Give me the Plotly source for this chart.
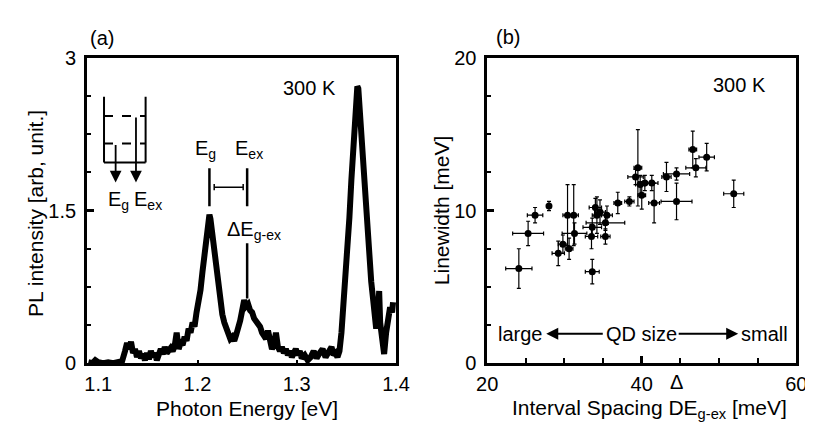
import plotly.graph_objects as go

# ---------------- Panel (a): PL spectrum at 300 K ----------------
energy_ev = [
    1.090, 1.094, 1.097, 1.100, 1.105, 1.110, 1.115, 1.120, 1.124, 1.127,
    1.129, 1.131, 1.133, 1.135, 1.137, 1.139, 1.141, 1.143, 1.145, 1.147,
    1.149, 1.151, 1.153, 1.155, 1.157, 1.159, 1.161, 1.163, 1.165, 1.167,
    1.169, 1.171, 1.173, 1.175, 1.177, 1.179, 1.181, 1.183, 1.185, 1.187,
    1.189, 1.191, 1.193, 1.195, 1.197, 1.199, 1.201, 1.203, 1.205, 1.207,
    1.209, 1.211, 1.212, 1.213, 1.215, 1.217, 1.219, 1.221, 1.223, 1.225,
    1.227, 1.229, 1.231, 1.233, 1.235, 1.237, 1.239, 1.241, 1.243, 1.245,
    1.247, 1.249, 1.251, 1.253, 1.255, 1.257, 1.259, 1.261, 1.263, 1.265,
    1.267, 1.269, 1.271, 1.273, 1.275, 1.277, 1.279, 1.281, 1.283, 1.285,
    1.287, 1.289, 1.291, 1.293, 1.295, 1.297, 1.299, 1.301, 1.303, 1.305,
    1.308, 1.311, 1.314, 1.317, 1.320, 1.323, 1.326, 1.329, 1.332, 1.335,
    1.337, 1.339, 1.341, 1.343, 1.345, 1.347, 1.349, 1.351, 1.353, 1.355,
    1.357, 1.359, 1.361, 1.362, 1.363, 1.365, 1.367, 1.369, 1.371, 1.373,
    1.375, 1.377, 1.379, 1.380, 1.382, 1.383, 1.384, 1.386, 1.388, 1.390,
    1.392, 1.394, 1.396, 1.397,
]
pl_intensity = [
    0.01, 0.00, 0.03, 0.01, 0.00, 0.01, 0.00, 0.01, 0.02, 0.12,
    0.20, 0.14, 0.21, 0.10, 0.14, 0.06, 0.12, 0.05, 0.09, 0.03,
    0.10, 0.04, 0.12, 0.06, 0.10, 0.03, 0.08, 0.14, 0.09, 0.16,
    0.10, 0.13, 0.15, 0.12, 0.17, 0.30, 0.14, 0.20, 0.18, 0.26,
    0.22, 0.34, 0.30, 0.40, 0.36, 0.50, 0.58, 0.72, 0.90, 1.05,
    1.20, 1.38, 1.46, 1.42, 1.25, 1.05, 0.88, 0.72, 0.60, 0.48,
    0.40, 0.33, 0.28, 0.24, 0.26, 0.22, 0.28, 0.33, 0.42, 0.52,
    0.62, 0.56, 0.58, 0.52, 0.50, 0.44, 0.42, 0.38, 0.36, 0.30,
    0.28, 0.24, 0.32, 0.20, 0.14, 0.18, 0.30, 0.16, 0.12, 0.16,
    0.10, 0.14, 0.08, 0.12, 0.06, 0.10, 0.14, 0.08, 0.12, 0.05,
    0.08, 0.03, 0.06, 0.12, 0.05, 0.10, 0.14, 0.06, 0.12, 0.16,
    0.08, 0.10, 0.06, 0.12, 0.30, 0.55, 0.90, 1.15, 1.43, 1.80,
    2.20, 2.60, 2.72, 2.70, 2.55, 2.20, 1.90, 1.55, 1.27, 1.05,
    0.80, 0.62, 0.45, 0.34, 0.50, 0.71, 0.40, 0.25, 0.09, 0.30,
    0.42, 0.55, 0.50, 0.60,
]
a_xticks = [1.1, 1.2, 1.3, 1.4]
a_xticklabels = ["1.1", "1.2", "1.3", "1.4"]
a_yticks = [0, 1.5, 3]
a_yticklabels = ["0", "1.5", "3"]

# ---------------- Panel (b): linewidth vs interval spacing ----------------
spacing_mev = [24.1, 25.3, 26.2, 28.0, 29.2, 29.8, 30.4, 30.6, 31.2, 31.3,
               33.5, 33.6, 33.6, 34.2, 34.0, 34.6, 35.3, 35.3, 35.5, 36.9,
               38.4, 39.5, 39.2, 39.8, 40.4, 41.3, 40.0, 41.6, 43.2, 44.5,
               44.5, 46.6, 47.0, 48.4, 51.9]
linewidth_mev = [6.2, 8.5, 9.7, 10.3, 7.2, 7.8, 9.7, 7.5, 9.7, 8.5,
                 8.3, 8.9, 6.0, 9.7, 10.2, 9.9, 9.2, 8.3, 9.7, 10.5,
                 10.6, 12.8, 12.2, 11.7, 11.8, 11.8, 11.0, 10.5, 12.2, 12.4,
                 10.6, 14.0, 12.8, 13.5, 11.1]
spacing_err = [1.7, 2.0, 1.0, 0.3, 0.8, 0.6, 0.6, 0.5, 0.6, 1.6,
               0.8, 1.2, 0.9, 0.6, 0.8, 0.7, 2.5, 0.6, 0.7, 0.5,
               0.6, 0.5, 1.0, 0.6, 0.8, 0.8, 0.5, 0.7, 0.6, 1.7,
               2.0, 0.5, 1.3, 1.0, 1.3]
linewidth_err = [1.3, 0.8, 0.5, 0.3, 0.8, 0.6, 2.0, 0.7, 2.0, 0.7,
                 0.8, 0.6, 0.8, 1.2, 0.6, 0.8, 0.5, 0.5, 0.6, 0.7,
                 0.3, 2.5, 0.5, 0.6, 0.5, 0.5, 0.9, 1.3, 0.95, 0.4,
                 1.2, 1.2, 0.6, 0.9, 0.9]
b_xticks = [20, 40, 60]
b_yticks = [0, 10, 20]

W, H = 813, 426
FONT = "Liberation Sans, Arial, sans-serif"


def px(x):
    return x / W


def py(y):
    return 1 - y / H


fig = go.Figure()

fig.add_trace(go.Scatter(
    x=energy_ev, y=pl_intensity, mode="lines",
    line=dict(color="black", width=6), xaxis="x", yaxis="y",
    showlegend=False, hoverinfo="skip",
))

fig.add_trace(go.Scatter(
    x=spacing_mev, y=linewidth_mev, mode="markers",
    marker=dict(color="black", size=7, symbol="circle"),
    error_x=dict(type="data", array=spacing_err, color="black",
                 thickness=1.2, width=2),
    error_y=dict(type="data", array=linewidth_err, color="black",
                 thickness=1.2, width=2),
    xaxis="x2", yaxis="y2", showlegend=False,
))

axis_common = dict(
    showline=True, linecolor="black", linewidth=2.5, mirror=True,
    ticks="inside", tickcolor="black", showgrid=False, zeroline=False,
    tickfont=dict(family=FONT, size=20, color="black"),
)

ydom = [py(363), py(41)]

fig.update_layout(
    width=W, height=H,
    margin=dict(l=0, r=0, t=0, b=0),
    paper_bgcolor="white", plot_bgcolor="white",
    font=dict(family=FONT, size=20, color="black"),
    xaxis=dict(axis_common, domain=[px(70), px(389)], range=[1.0885, 1.400],
               tickvals=a_xticks, ticktext=a_xticklabels, ticklen=4,
               tickwidth=1.5, ticklabelstandoff=1, anchor="y"),
    yaxis=dict(axis_common, domain=ydom, range=[0, 3],
               tickvals=a_yticks, ticktext=a_yticklabels, ticklen=7,
               tickwidth=3, ticklabelstandoff=4, anchor="x",
               minor=dict(dtick=0.375, tick0=0, ticks="inside", ticklen=4,
                          tickwidth=1.5, tickcolor="black", showgrid=False)),
    xaxis2=dict(axis_common, domain=[px(483), px(802)], range=[20, 60],
                tickvals=b_xticks, ticklen=8, tickwidth=3,
                ticklabelstandoff=1, anchor="y2",
                minor=dict(dtick=5, tick0=20, ticks="inside", ticklen=6,
                           tickwidth=1.5, tickcolor="black", showgrid=False)),
    yaxis2=dict(axis_common, domain=ydom, range=[0, 20],
                tickvals=b_yticks, ticklen=7, tickwidth=3,
                ticklabelstandoff=4, anchor="x2",
                minor=dict(dtick=2.5, tick0=0, ticks="inside", ticklen=4,
                           tickwidth=1.5, tickcolor="black", showgrid=False)),
)

ann = []


def text_px(x, y, s, size=20, angle=0):
    ann.append(dict(x=px(x), y=py(y), xref="paper", yref="paper", text=s,
                    showarrow=False, xanchor="center", yanchor="middle",
                    textangle=angle,
                    font=dict(family=FONT, size=size, color="black")))


def text_a(x, y, s, size=20):
    ann.append(dict(x=x, y=y, xref="x", yref="y", text=s, showarrow=False,
                    xanchor="center", yanchor="middle",
                    font=dict(family=FONT, size=size, color="black")))


# panel labels and titles
text_px(86, 20, "(a)")
text_px(504, 19, "(b)")
text_px(17, 205, "PL intensity [arb, unit.]", size=21, angle=-90)
text_px(235, 411, "Photon Energy [eV]", size=21)
text_px(436, 202, "Linewidth [meV]", size=21, angle=-90)
text_px(651, 411, "Interval Spacing DE<sub>g-ex</sub> [meV]", size=21)
text_px(300, 73, "300 K")
text_px(743, 70, "300 K")
text_px(678, 383, "Δ")

# panel (b) QD size arrows
text_px(517, 332, "large")
text_px(642, 332, "QD size")
text_px(769, 332, "small")
for head_x, tail_x in [(544, 602), (742, 681)]:
    ann.append(dict(x=px(head_x), y=py(332), xref="paper", yref="paper",
                    ax=tail_x - head_x, ay=0, text="", showarrow=True,
                    arrowhead=2, arrowsize=1.2, arrowwidth=2,
                    arrowcolor="black"))

# panel (a) labels near peaks
text_a(1.1205, 1.60, "E<sub>g</sub>")
text_a(1.1500, 1.60, "E<sub>ex</sub>")
text_a(1.2080, 2.10, "E<sub>g</sub>")
text_a(1.2515, 2.10, "E<sub>ex</sub>")
text_a(1.2570, 1.30, "ΔE<sub>g-ex</sub>")

# level diagram arrows
for xa, ytop in [(1.1175, 2.159), (1.1380, 2.430)]:
    ann.append(dict(x=xa, y=1.776, xref="x", yref="y", ax=xa, ay=ytop,
                    axref="x", ayref="y", text="", showarrow=True,
                    arrowhead=2, arrowsize=1.3, arrowwidth=1.8,
                    arrowcolor="black"))

fig.update_layout(annotations=ann)

shapes = []


def seg(x0, y0, x1, y1, w=2, dash="solid"):
    shapes.append(dict(type="line", xref="x", yref="y", x0=x0, y0=y0,
                       x1=x1, y1=y1, line=dict(color="black", width=w,
                                               dash=dash)))


# level diagram (box with dashed levels)
seg(1.1058, 2.617, 1.1058, 1.972)
seg(1.1477, 2.617, 1.1477, 1.972)
seg(1.1058, 1.972, 1.1477, 1.972)
seg(1.1058, 2.430, 1.1477, 2.430, dash="dash")
seg(1.1058, 2.159, 1.1477, 2.159, dash="dash")

# Eg / Eex markers
seg(1.2120, 1.916, 1.2120, 1.542, w=2.5)
seg(1.2500, 1.916, 1.2500, 1.542, w=2.5)
seg(1.2168, 1.729, 1.2460, 1.729, w=1.5)
seg(1.2168, 1.70, 1.2168, 1.76, w=1.5)
seg(1.2460, 1.70, 1.2460, 1.76, w=1.5)
seg(1.2500, 1.178, 1.2500, 0.636, w=2.5)

fig.update_layout(shapes=shapes)

fig.write_html("out.html")
